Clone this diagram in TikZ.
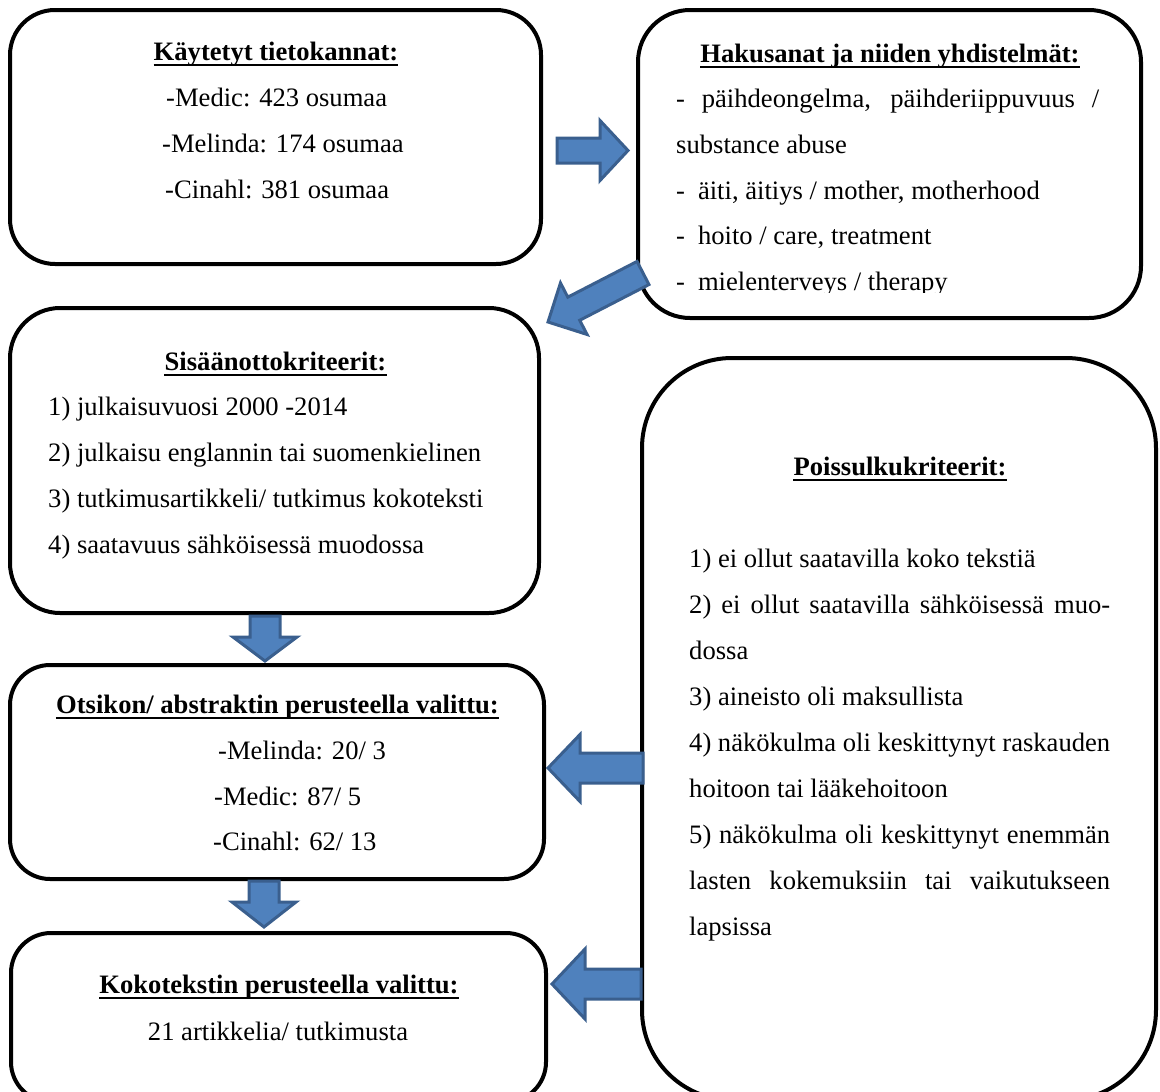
\documentclass[tikz,border=0pt]{standalone}
\usepackage{fontspec}
\setmainfont{Liberation Serif}
\usetikzlibrary{calc}
\definecolor{afill}{HTML}{4F81BD}
\definecolor{aline}{HTML}{3A5F8E}
\tikzset{
  box/.style={draw=black, line width=4pt, fill=white, rectangle, inner sep=0pt, outer sep=0pt},
  txt/.style={inner sep=0pt, anchor=base west, font=\fontsize{26.6}{30}\selectfont},
  ctxt/.style={inner sep=0pt, anchor=base, font=\fontsize{26.6}{30}\selectfont},
  ttl/.style={inner sep=0pt, anchor=base, font=\fontsize{26.6}{30}\selectfont\bfseries},
  uline/.style={line width=1.8pt},
  barrow/.style={fill=afill, draw=aline, line width=3pt, line join=miter},
}
% #1 tail, #2 tip, #3 half shaft width, #4 half head width, #5 head length
\newcommand\blockarrow[5]{%
  \coordinate (#1-h) at ($(#2)!#5!(#1)$);
  \draw[barrow] ($(#1)!#3!90:(#2)$) -- ($(#1-h)!#3!90:(#2)$) -- ($(#1-h)!#4!90:(#2)$) -- (#2)
    -- ($(#1-h)!#4!-90:(#2)$) -- ($(#1-h)!#3!-90:(#2)$) -- ($(#1)!#3!-90:(#2)$) -- cycle;}
\newcommand\ul[1]{\draw[uline] ([yshift=-5pt]#1.base west) -- ([yshift=-5pt]#1.base east);}
\begin{document}
\begin{tikzpicture}[x=1pt,y=-1pt]
\useasboundingbox (0,0) rectangle (1160,1092);
\clip (0,0) rectangle (1160,1092);

% boxes
\node[box, rounded corners=45pt, minimum width=531pt, minimum height=254pt] (b1) at (275.5,137) {};
\node[box, rounded corners=52pt, minimum width=503pt, minimum height=308pt] (b2) at (889.5,164) {};
\node[box, rounded corners=50pt, minimum width=529pt, minimum height=305pt] (b3) at (274.5,460.5) {};
\node[box, rounded corners=90pt, minimum width=514pt, minimum height=742pt] (b4) at (899,729) {};
\node[box, rounded corners=40pt, minimum width=534pt, minimum height=214pt] (b5) at (277,772) {};
\node[box, rounded corners=40pt, minimum width=535pt, minimum height=169pt] (b6) at (278.5,1017.5) {};

% box 1
\node[ttl] (t1) at (276,60) {Käytetyt tietokannat:};
\ul{t1}
\node[txt] (l11) at (166,106) {-Medic: 423 osumaa};
\node[txt] (l12) at (162,152) {-Melinda: 174 osumaa};
\node[txt] (l13) at (165,198) {-Cinahl: 381 osumaa};

% box 2
\node[ttl] (t2) at (890,62) {Hakusanat ja niiden yhdistelmät:};
\ul{t2}
\begin{scope}
\clip (600,0) rectangle (1160,292);
\node[txt] (l21) at (676,107) {\makebox[423pt][s]{- päihdeongelma, päihderiippuvuus /}};
\node[txt] (l22) at (676,153) {substance abuse};
\node[txt] (l23) at (676,199) {-\hspace{13pt}äiti, äitiys / mother, motherhood};
\node[txt] (l24) at (676,244) {-\hspace{13pt}hoito / care, treatment};
\node[txt] (l25) at (676,290) {-\hspace{13pt}mielenterveys / therapy};
\end{scope}

% box 3
\node[ttl] (t3) at (275.5,370) {Sisäänottokriteerit:};
\ul{t3}
\node[txt] (l31) at (48,415) {1) julkaisuvuosi 2000 -2014};
\node[txt] (l32) at (48,461) {2) julkaisu englannin tai suomenkielinen};
\node[txt] (l33) at (48,507) {3) tutkimusartikkeli/ tutkimus kokoteksti};
\node[txt] (l34) at (48,553) {4) saatavuus sähköisessä muodossa};

% box 4
\node[ttl] (t4) at (900,475) {Poissulkukriteerit:};
\ul{t4}
\node[txt] (l41) at (689,567) {1) ei ollut saatavilla koko tekstiä};
\node[txt] (l42) at (689,613) {\makebox[421pt][s]{2) ei ollut saatavilla sähköisessä muo-}};
\node[txt] (l43) at (689,659) {dossa};
\node[txt] (l44) at (689,705) {3) aineisto oli maksullista};
\node[txt] (l45) at (689,751) {\makebox[421pt][s]{4) näkökulma oli keskittynyt raskauden}};
\node[txt] (l46) at (689,797) {hoitoon tai lääkehoitoon};
\node[txt] (l47) at (689,843) {\makebox[421pt][s]{5) näkökulma oli keskittynyt enemmän}};
\node[txt] (l48) at (689,889) {\makebox[421pt][s]{lasten kokemuksiin tai vaikutukseen}};
\node[txt] (l49) at (689,935) {lapsissa};

% box 5
\node[ttl] (t5) at (277.5,713) {Otsikon/ abstraktin perusteella valittu:};
\ul{t5}
\node[txt] (l51) at (218,759) {-Melinda: 20/ 3};
\node[txt] (l52) at (214,805) {-Medic: 87/ 5};
\node[txt] (l53) at (213,850) {-Cinahl: 62/ 13};

% box 6
\node[ttl] (t6) at (279,993) {Kokotekstin perusteella valittu:};
\ul{t6}
\node[ctxt] (l61) at (278,1040) {21 artikkelia/ tutkimusta};

% block arrows
\coordinate (a1s) at (557,150.5); \coordinate (a1e) at (628,150.5);
\blockarrow{a1s}{a1e}{12.5pt}{30pt}{28pt}
\coordinate (a2s) at (643,273); \coordinate (a2e) at (548,322);
\blockarrow{a2s}{a2e}{13pt}{29pt}{29pt}
\coordinate (a3s) at (265,616); \coordinate (a3e) at (265,661);
\blockarrow{a3s}{a3e}{15pt}{32pt}{24pt}
\coordinate (a4s) at (264,881); \coordinate (a4e) at (264,927);
\blockarrow{a4s}{a4e}{15pt}{32pt}{25pt}
\coordinate (a5s) at (643,768); \coordinate (a5e) at (548,768);
\blockarrow{a5s}{a5e}{15pt}{33.5pt}{32pt}
\coordinate (a6s) at (641,984); \coordinate (a6e) at (552,984);
\blockarrow{a6s}{a6e}{15pt}{35pt}{33pt}
\end{tikzpicture}
\end{document}
